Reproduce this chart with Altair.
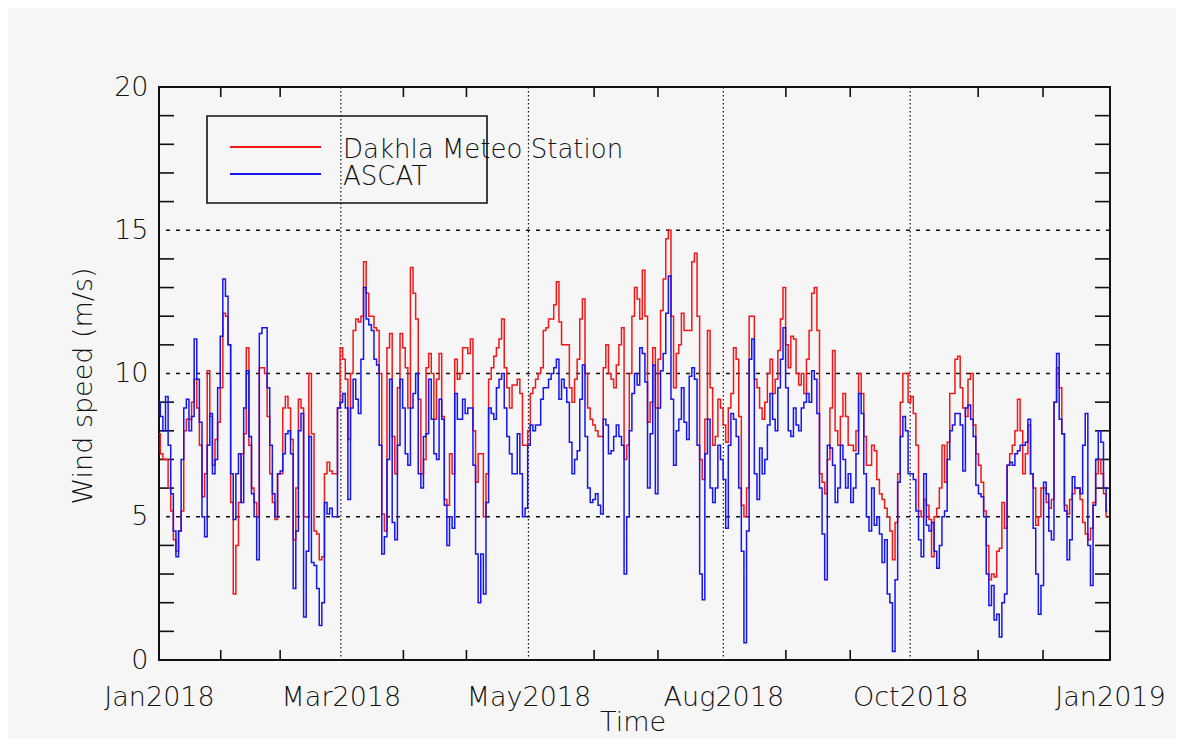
import altair as alt
import pandas as pd

# ---- data (daily values, 1 Jan 2018 .. 31 Dec 2018) ----
station = [
    7.9, 7.2, 7.0, 7.0, 6.0, 5.2, 4.2, 3.8, 4.5, 5.2,
    8.0, 8.4, 8.4, 9.0, 9.8, 8.8, 7.5, 5.7, 6.5, 10.1,
    8.5, 6.8, 7.7, 8.3, 9.5, 12.1, 12.0, 11.0, 5.5, 2.3,
    4.0, 5.5, 7.2, 7.9, 10.9, 7.5, 6.0, 5.5, 5.0, 10.2,
    10.2, 10.0, 8.5, 6.5, 5.5, 4.9, 6.5, 6.5, 8.8, 9.2,
    8.8, 7.7, 4.2, 6.0, 9.1, 8.8, 5.0, 5.0, 10.0, 7.9,
    4.5, 4.4, 3.5, 3.6, 6.5, 6.9, 6.6, 6.5, 6.5, 8.8,
    10.9, 10.5, 9.8, 7.7, 10.0, 11.5, 11.9, 11.8, 12.0, 13.9,
    12.8, 12.0, 12.0, 11.6, 11.5, 10.0, 5.1, 4.5, 10.9, 11.4,
    7.8, 6.5, 9.5, 11.4, 10.9, 10.2, 8.8, 13.7, 12.8, 11.9,
    9.1, 6.5, 7.0, 10.2, 10.7, 10.0, 8.4, 9.8, 10.7, 8.5,
    5.6, 5.4, 7.2, 6.5, 10.5, 9.8, 10.0, 10.9, 10.9, 10.7,
    11.2, 8.0, 6.2, 7.2, 7.2, 5.0, 6.5, 9.8, 10.2, 10.6,
    10.9, 11.2, 11.9, 10.2, 9.5, 8.8, 9.6, 9.6, 9.8, 9.3,
    7.5, 7.5, 8.0, 9.3, 9.5, 9.8, 10.0, 10.2, 11.5, 11.6,
    11.9, 11.9, 12.4, 13.2, 11.8, 11.0, 11.0, 11.0, 9.5, 9.0,
    9.8, 10.5, 11.9, 12.6, 10.0, 8.8, 8.4, 8.2, 8.0, 7.8,
    7.8, 10.2, 11.0, 10.0, 9.8, 9.5, 10.3, 11.0, 11.6, 7.0,
    7.5, 10.0, 12.0, 13.0, 12.6, 11.9, 13.6, 12.0, 8.3, 9.0,
    10.9, 8.8, 10.5, 12.2, 13.3, 14.7, 15.0, 12.0, 9.5, 10.7,
    11.0, 12.1, 11.5, 11.5, 11.5, 13.9, 14.2, 12.0, 7.0, 6.3,
    8.4, 11.5, 9.5, 7.5, 7.8, 9.1, 8.8, 8.2, 7.6, 8.8,
    9.3, 10.9, 10.5, 8.5, 5.4, 5.0, 6.0, 12.0, 12.0, 9.8,
    9.5, 8.8, 8.4, 9.0, 10.0, 10.5, 9.3, 9.8, 10.8, 11.9,
    13.0, 11.0, 10.2, 11.3, 11.2, 10.0, 9.6, 10.0, 9.3, 10.5,
    11.5, 12.8, 13.0, 11.5, 6.5, 6.2, 5.8, 7.0, 8.8, 10.8,
    8.0, 7.5, 8.5, 9.3, 8.5, 7.5, 7.5, 7.3, 8.0, 10.0,
    9.3, 7.8, 6.8, 6.8, 7.5, 7.3, 6.3, 5.8, 5.6, 5.3,
    5.0, 4.5, 3.5, 4.8, 6.5, 9.0, 10.0, 10.0, 9.0, 9.2,
    8.6, 7.5, 5.2, 5.0, 5.6, 5.4, 4.9, 3.6, 5.0, 5.3,
    6.0, 7.5, 6.2, 7.6, 9.3, 9.3, 10.5, 10.6, 9.5, 8.8,
    8.5, 9.8, 10.0, 8.2, 7.2, 6.8, 6.2, 5.2, 4.0, 2.8,
    3.0, 2.9, 3.8, 3.9, 5.5, 4.6, 6.8, 7.2, 7.5, 8.0,
    9.1, 8.0, 6.5, 7.2, 8.2, 6.5, 6.0, 4.7, 5.0, 6.0,
    6.0, 5.5, 5.3, 5.6, 9.0, 10.2, 9.5, 7.9, 5.4, 5.1,
    5.6, 5.8, 6.0, 6.0, 5.6, 4.8, 4.4, 4.2, 4.6, 5.5,
    6.5, 7.0, 6.5, 5.8, 5.0,
]

ascat = [
    9.0, 8.5, 8.0, 9.2, 7.5, 5.8, 4.5, 3.6, 4.5, 7.0,
    8.8, 9.1, 8.0, 8.5, 11.2, 9.8, 8.3, 5.0, 4.3, 7.5,
    8.6, 6.5, 7.0, 9.5, 11.3, 13.3, 12.7, 11.0, 6.5, 4.9,
    6.5, 7.2, 5.5, 8.8, 10.1, 7.8, 5.8, 5.0, 3.5, 11.4,
    11.6, 11.6, 9.5, 7.5, 5.8, 5.0, 6.5, 6.6, 7.2, 7.9,
    8.0, 7.2, 2.5, 4.5, 8.0, 8.6, 1.5, 3.8, 7.8, 3.4,
    3.3, 2.5, 1.2, 2.0, 5.5, 5.1, 5.3, 5.0, 5.0, 8.8,
    9.0, 9.3, 8.8, 5.6, 8.8, 9.8, 9.1, 8.6, 10.5, 13.0,
    11.9, 11.7, 11.5, 10.5, 10.3, 7.5, 3.7, 4.3, 7.0, 9.8,
    4.8, 4.2, 7.5, 9.8, 8.8, 7.2, 6.8, 8.8, 9.3, 10.0,
    6.5, 6.0, 7.8, 7.9, 9.8, 8.4, 7.2, 7.0, 9.1, 8.4,
    5.4, 4.0, 5.0, 4.6, 9.3, 8.4, 8.4, 9.1, 8.6, 8.8,
    8.8, 6.8, 3.7, 2.0, 3.7, 2.3, 5.5, 8.8, 8.6, 8.4,
    9.5, 9.8, 10.0, 8.8, 7.8, 7.2, 6.5, 6.5, 7.9, 6.5,
    5.0, 5.3, 7.5, 8.2, 8.0, 8.2, 8.2, 9.1, 9.5, 9.5,
    9.8, 10.0, 10.2, 10.5, 9.1, 9.8, 9.5, 9.0, 7.6, 6.5,
    7.0, 7.3, 9.1, 10.3, 7.8, 6.0, 5.5, 5.6, 5.8, 5.4,
    5.1, 8.4, 8.2, 7.2, 7.3, 7.8, 8.2, 7.8, 7.5, 3.0,
    5.0, 8.0, 9.3, 10.0, 9.6, 10.9, 10.7, 9.7, 6.0, 7.9,
    10.3, 5.8, 8.8, 10.1, 10.7, 12.1, 13.4, 9.1, 6.8, 8.0,
    8.4, 9.5, 8.3, 7.7, 9.9, 10.2, 9.8, 7.5, 3.0, 2.1,
    7.2, 8.4, 6.0, 5.5, 6.0, 7.5, 7.0, 6.3, 4.6, 7.5,
    8.6, 8.4, 7.8, 6.0, 3.8, 0.6, 4.5, 10.5, 11.2, 6.5,
    5.6, 7.4, 6.5, 7.0, 8.2, 9.3, 8.4, 8.0, 9.5, 10.5,
    11.6, 9.5, 8.0, 7.8, 8.8, 8.2, 8.0, 8.8, 9.0, 9.3,
    9.0, 10.1, 9.8, 8.6, 6.0, 4.4, 2.8, 7.5, 7.4, 6.8,
    5.5, 6.0, 7.5, 7.0, 6.0, 6.5, 5.5, 6.0, 7.2, 9.3,
    8.6, 6.5, 5.0, 4.5, 6.0, 4.7, 5.0, 4.4, 3.4, 4.2,
    2.3, 2.0, 0.3, 2.8, 6.2, 7.8, 8.5, 8.0, 6.5, 6.5,
    6.3, 5.2, 4.2, 3.6, 6.5, 4.7, 4.5, 4.8, 3.8, 3.2,
    4.0, 5.0, 5.2, 7.0, 8.0, 8.2, 8.6, 8.6, 8.2, 6.6,
    8.8, 8.9, 8.4, 7.8, 6.1, 5.8, 5.7, 5.0, 3.0, 1.9,
    2.6, 1.4, 1.6, 0.8, 2.0, 2.3, 6.8, 6.9, 6.8, 7.2,
    7.3, 7.5, 7.5, 7.6, 8.4, 6.5, 4.6, 3.0, 1.6, 2.6,
    6.2, 5.8, 4.5, 4.2, 9.0, 10.7, 8.4, 7.9, 5.2, 3.5,
    4.2, 6.4, 6.0, 6.0, 5.8, 7.5, 8.6, 4.0, 2.6, 5.4,
    7.0, 8.0, 7.6, 6.0, 5.2,
]

series_names = ["Dakhla Meteo Station", "ASCAT"]
series_colors = ["#f01818", "#1616ee"]

month_labels = ["Jan2018", "Mar2018", "May2018", "Aug2018", "Oct2018", "Jan2019"]
label_days = [0, 69.8, 141.8, 216.6, 288.3, 365]
minor_x_days = [23.7, 46.5, 93.8, 118.0, 167.0, 191.5, 240.6, 265.3, 314.4, 339.3]
y_major = [0, 5, 10, 15, 20]
y_grid = [5, 10, 15]
y_minor = [1, 2, 3, 4, 6, 7, 8, 9, 11, 12, 13, 14, 16, 17, 18, 19]

# ---- layout ----
W, H = 951, 573
FONT = "DejaVu Sans"
FS = 27
LFS = 26
INK = "#111111"

days = list(range(len(station)))
df_station = pd.DataFrame({"day": days, "speed": station})
df_ascat = pd.DataFrame({"day": days, "speed": ascat})

label_expr = " : ".join(
    f"datum.value == {d} ? '{m}'" for d, m in zip(label_days, month_labels)
) + " : ''"

xscale = alt.Scale(domain=[0, 365], nice=False, zero=False)
yscale = alt.Scale(domain=[0, 20], nice=False, zero=True)

x_axis = alt.Axis(
    values=label_days, labelExpr=label_expr, ticks=False, domain=False, grid=False,
    title="Time", labelFont=FONT, labelFontSize=FS, labelColor=INK, labelFontWeight=300,
    labelBaseline="alphabetic", labelPadding=45, labelFlush=False, labelOverlap=False,
    titleFont=FONT, titleFontSize=FS, titleColor=INK, titleFontWeight=300,
    titleBaseline="alphabetic", titleX=W / 2 - 2, titleY=70, titleAnchor="middle",
)
y_axis = alt.Axis(
    values=y_major, ticks=False, domain=False, grid=False,
    title="Wind speed (m/s)", labelFont=FONT, labelFontSize=FS, labelColor=INK,
    labelFontWeight=300, labelPadding=11, labelFlush=False, labelOverlap=False,
    titleFont=FONT, titleFontSize=FS, titleColor=INK, titleFontWeight=300,
    titleAngle=270, titleBaseline="middle", titleAlign="center",
    titleX=-76, titleY=H / 2 + 12,
)


def X():
    return alt.X("day:Q", scale=xscale, axis=x_axis)


def Y():
    return alt.Y("speed:Q", scale=yscale, axis=y_axis)


# grid lines
vgrid = alt.Chart(pd.DataFrame({"day": label_days[1:-1]})).mark_rule(
    color=INK, strokeWidth=1.2, strokeDash=[1.5, 2.5]
).encode(x=X())
hgrid = alt.Chart(pd.DataFrame({"speed": y_grid})).mark_rule(
    color=INK, strokeWidth=1.3, strokeDash=[4, 6]
).encode(y=Y())

# inward minor ticks on all four sides
xt = pd.DataFrame({"day": minor_x_days})
yt = pd.DataFrame({"speed": y_minor})
tick_style = dict(color=INK, strokeWidth=1.6)
tick_bottom = alt.Chart(xt).mark_rule(**tick_style).encode(x=X(), y=alt.value(H), y2=alt.value(H - 10))
tick_top = alt.Chart(xt).mark_rule(**tick_style).encode(x=X(), y=alt.value(0), y2=alt.value(10))
tick_left = alt.Chart(yt).mark_rule(**tick_style).encode(y=Y(), x=alt.value(0), x2=alt.value(15))
tick_right = alt.Chart(yt).mark_rule(**tick_style).encode(y=Y(), x=alt.value(W - 15), x2=alt.value(W))

# data lines
line_station = alt.Chart(df_station).mark_line(
    interpolate="step", color=series_colors[0], strokeWidth=1.5
).encode(x=X(), y=Y())
line_ascat = alt.Chart(df_ascat).mark_line(
    interpolate="step", color=series_colors[1], strokeWidth=1.5
).encode(x=X(), y=Y())

# legend box
legend_box = alt.Chart(pd.DataFrame({"k": [0]})).mark_rect(
    fillOpacity=0, stroke=INK, strokeWidth=1.6
).encode(x=alt.value(48), x2=alt.value(328), y=alt.value(29), y2=alt.value(116))

legend_layers = []
for i, (name, col) in enumerate(zip(series_names, series_colors)):
    ldf = pd.DataFrame({"series": [name]})
    ly = 60 + 27 * i
    legend_layers.append(
        alt.Chart(ldf).mark_rule(color=col, strokeWidth=2).encode(
            x=alt.value(71), x2=alt.value(162), y=alt.value(ly)
        )
    )
    legend_layers.append(
        alt.Chart(ldf).mark_text(
            align="left", baseline="alphabetic", font=FONT, fontSize=LFS,
            fontWeight=300, color=INK
        ).encode(x=alt.value(184), y=alt.value(ly + 11), text="series:N")
    )

chart = alt.layer(
    vgrid, hgrid, tick_bottom, tick_top, tick_left, tick_right,
    line_station, line_ascat, legend_box, *legend_layers,
).properties(
    width=W, height=H,
    autosize=alt.AutoSizeParams(type="none"),
    padding={"left": 151, "top": 79, "right": 66, "bottom": 79},
    background="#f6f6f6",
).configure_view(stroke=INK, strokeWidth=2)

chart.save("out.html", embed_options={"renderer": "svg", "actions": False})
